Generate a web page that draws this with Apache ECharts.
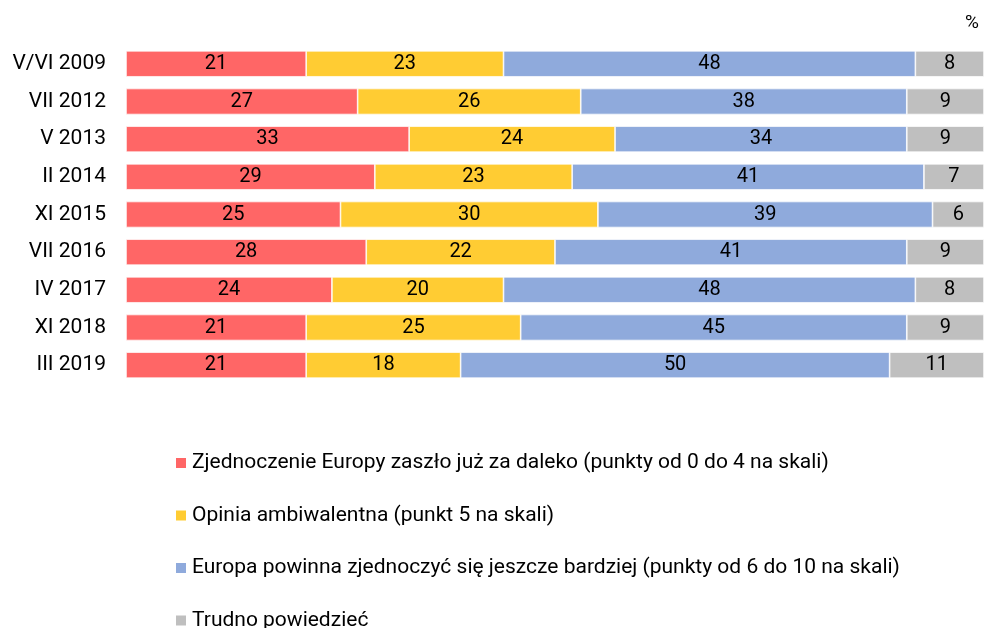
<!DOCTYPE html>
<html>
<head>
    <meta charset="utf-8">
    <title>Zjednoczenie Europy</title>
    <script src="https://cdn.jsdelivr.net/npm/echarts@6/dist/echarts.min.js"></script>
    <style>
        html, body { margin: 0; padding: 0; background: #fff; }
    </style>
</head>
<body>
<div id="main" style="width: 985px;height:628px;"></div>
<script type="text/javascript">

    // kategorie (od góry)
    var categories = ['V/VI 2009', 'VII 2012', 'V 2013', 'II 2014', 'XI 2015', 'VII 2016', 'IV 2017', 'XI 2018', 'III 2019'];
    // serie
    var seriesNames = [
        'Zjednoczenie Europy zaszło już za daleko (punkty od 0 do 4 na skali)',
        'Opinia ambiwalentna (punkt 5 na skali)',
        'Europa powinna zjednoczyć się jeszcze bardziej (punkty od 6 do 10 na skali)',
        'Trudno powiedzieć'
    ];
    var tooFar = [21, 27, 33, 29, 25, 28, 24, 21, 21];
    var ambivalent = [23, 26, 24, 23, 30, 22, 20, 25, 18];
    var further = [48, 38, 34, 41, 39, 41, 48, 45, 50];
    var hardToSay = [8, 9, 9, 7, 6, 9, 8, 9, 11];

    var colors = ['#FF6666', '#FFCC33', '#8FAADC', '#BFBFBF'];
    var values = [tooFar, ambivalent, further, hardToSay];

    var myChart = echarts.init(document.getElementById('main'));

    var series = [];
    var legends = [];
    for (var i = 0; i < seriesNames.length; i++) {
        series.push({
            name: seriesNames[i],
            type: 'bar',
            stack: 'total',
            barWidth: 26,
            data: values[i],
            itemStyle: {color: colors[i], borderColor: '#fff', borderWidth: 0.7},
            label: {
                show: true,
                position: 'inside',
                color: '#000',
                fontSize: 20,
                fontFamily: 'Roboto'
            }
        });
        // jedna legenda na wiersz, żeby się nie zawijała
        legends.push({
            orient: 'vertical',
            left: 169,
            top: 446 + i * 52.5,
            itemWidth: 12,
            itemHeight: 12,
            itemGap: 0,
            icon: 'rect',
            textStyle: {fontSize: 21, color: '#000', lineHeight: 24},
            data: [seriesNames[i]]
        });
    }

    var option = {
        animation: false,
        textStyle: {fontFamily: 'Roboto'},
        graphic: [{
            type: 'text',
            right: 6,
            top: 14,
            style: {text: '%', fontSize: 19, fill: '#000', fontFamily: 'Roboto'}
        }],
        legend: legends,
        grid: {
            left: 126,
            right: 1,
            top: 45,
            height: 339,
            containLabel: false
        },
        xAxis: {
            type: 'value',
            min: 0,
            max: 100,
            show: false
        },
        yAxis: {
            type: 'category',
            inverse: true,
            data: categories,
            axisLine: {show: false},
            axisTick: {show: false},
            axisLabel: {fontSize: 21, color: '#000', margin: 20}
        },
        series: series
    };

    myChart.setOption(option);
</script>
</body>
</html>
